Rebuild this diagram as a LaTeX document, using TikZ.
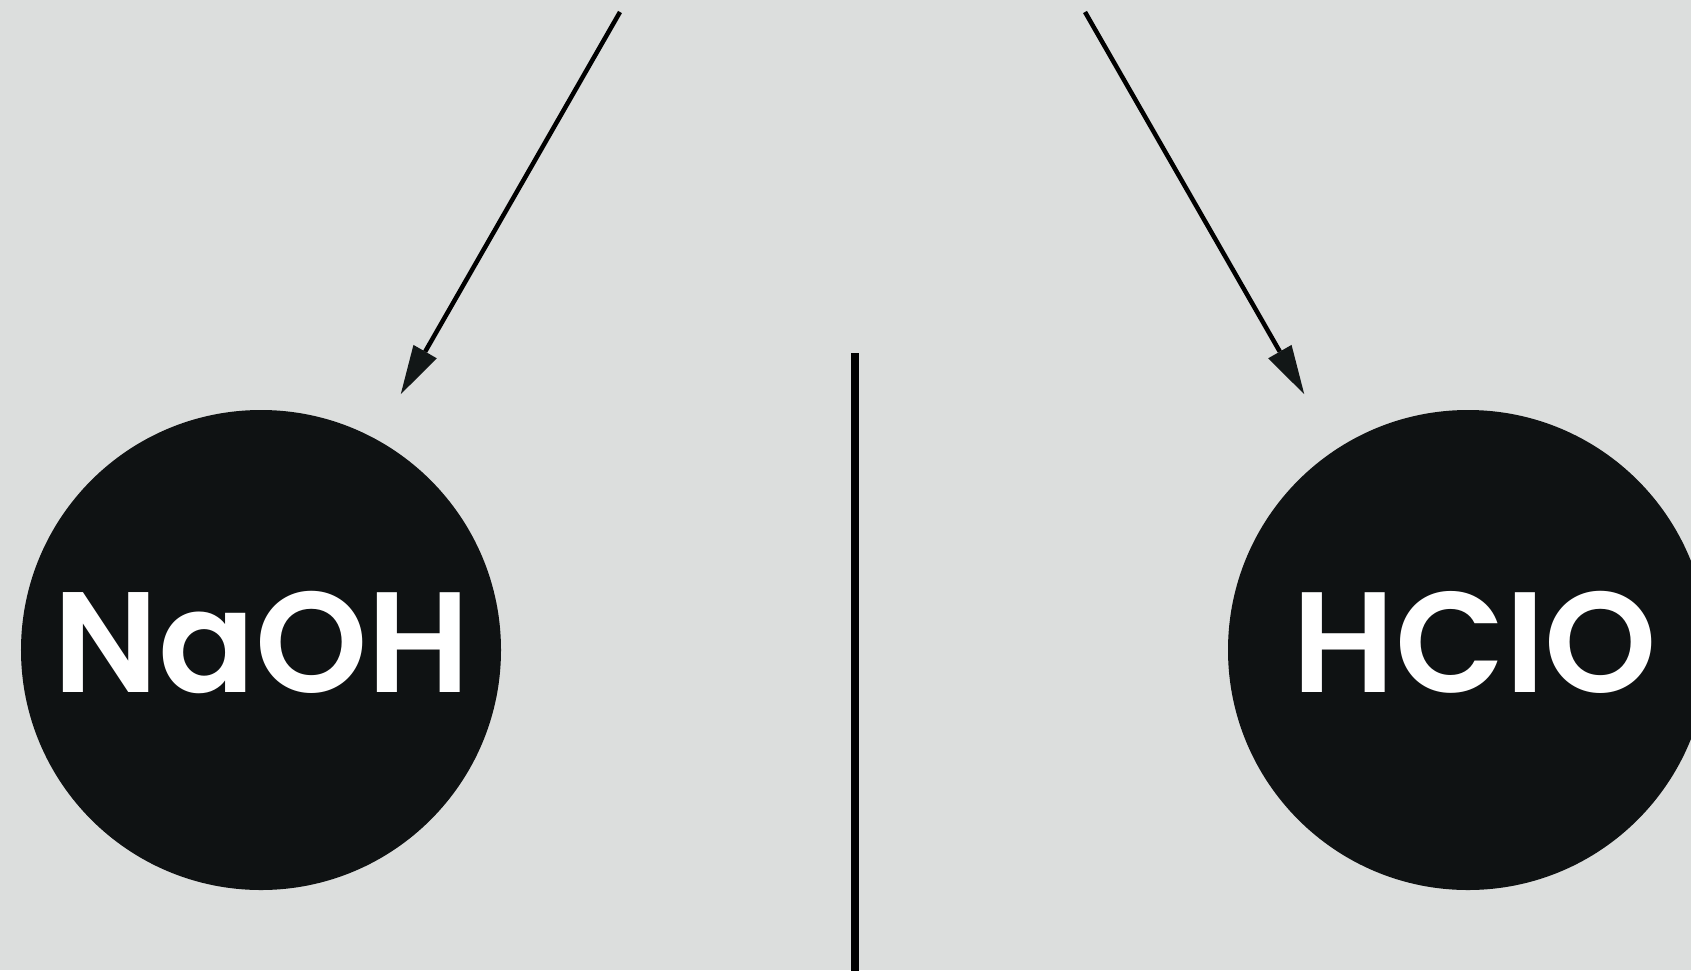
\documentclass[tikz,border=0pt]{standalone}
\usepackage{fontspec}
\newfontfamily\popfont{Poppins SemiBold}
\usetikzlibrary{arrows.meta,calc}
\definecolor{bg}{HTML}{DCDEDD}
\definecolor{ink}{HTML}{0F1213}
\definecolor{tipc}{HTML}{121717}
\tikzset{
  disc/.style={circle, fill=ink, draw=none, minimum size=480bp, inner sep=0pt},
  chem/.style={text=white, font=\popfont\fontsize{143bp}{143bp}\selectfont, inner sep=0pt, anchor=base},
  pointer/.style={draw=black, line width=4.5bp, -{Triangle[length=49bp,width=27bp,fill=tipc,line width=0pt]}, shorten >=295bp},
  divider/.style={draw=black, line width=7.5bp}
}
\begin{document}
\begin{tikzpicture}[x=1bp,y=-1bp]
\useasboundingbox (0,0) rectangle (1691,970);
\clip (0,0) rectangle (1691,970);
\fill[bg] (0,0) rectangle (1691,970);
\node[disc] (naoh) at (261,650) {};
\node[disc] (hclo) at (1468,650) {};
\node[chem] (tnaoh) at ($(naoh.center)+(1,42)$) {NaOH};
\node[chem] (thclo) at ($(hclo.center)+(7,42)$) {HCIO};
\coordinate (s1) at (620,12);
\coordinate (s2) at (1085,12);
\coordinate (d1) at (855,353);
\coordinate (d2) at (855,975);
\draw[pointer] (s1) -- ([xshift=-7bp]naoh.center);
\draw[pointer] (s2) -- ([xshift=-17bp]hclo.center);
\draw[divider] (d1) -- (d2);
\end{tikzpicture}
\end{document}
